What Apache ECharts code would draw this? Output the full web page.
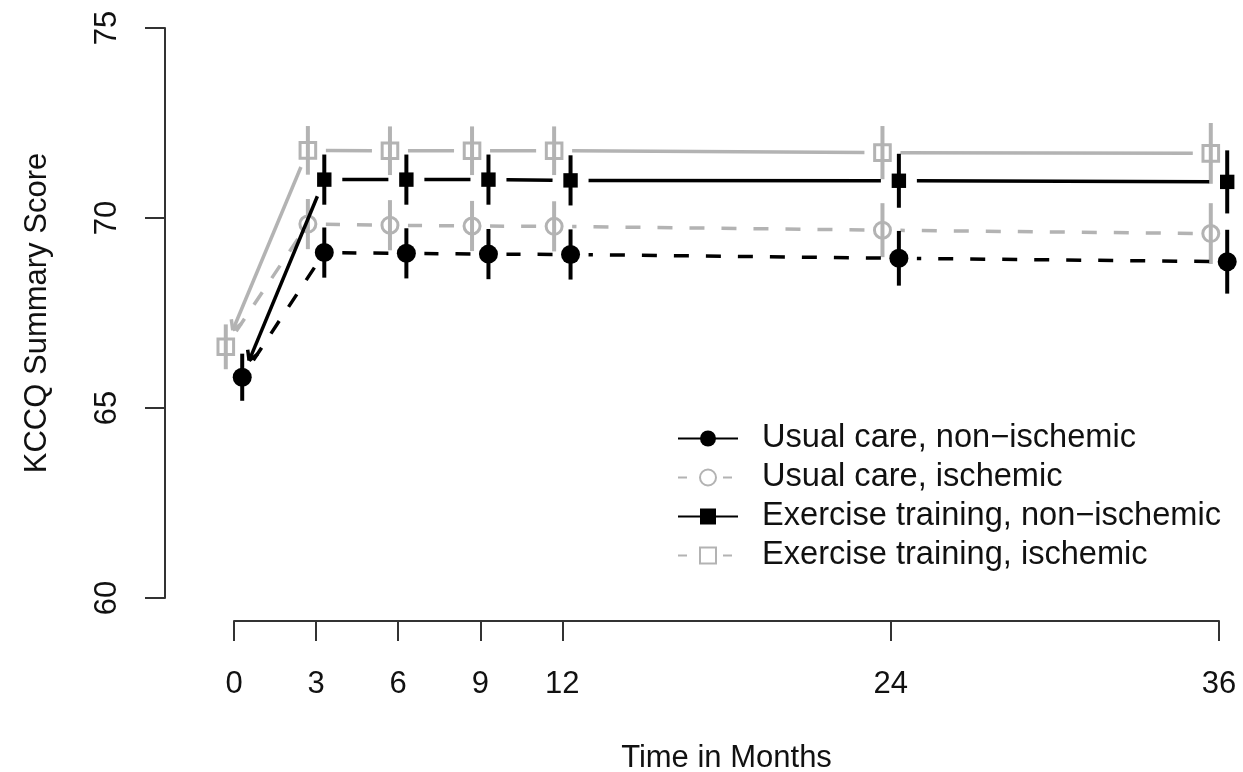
<!DOCTYPE html>
<html><head><meta charset="utf-8">
<script src="https://cdn.jsdelivr.net/npm/echarts@6/dist/echarts.min.js"></script>
<style>html,body{margin:0;padding:0;background:#fff}#c{width:1243px;height:772px}</style>
</head><body><div id="c"></div>
<script>
// ---- data ----
const months = [0, 3, 6, 9, 12, 24, 36];
const xTickLabels = [0, 3, 6, 9, 12, 24, 36];
const yTickLabels = [60, 65, 70, 75];
const seriesNames = [
  'Usual care, non\u2212ischemic',
  'Usual care, ischemic',
  'Exercise training, non\u2212ischemic',
  'Exercise training, ischemic'
];
// mean KCCQ summary score (month 0 = shared baseline per ischemic status)
const usualNonIsch = [65.81, 69.09, 69.07, 69.05, 69.04, 68.94, 68.85];
const usualIsch    = [66.61, 69.84, 69.81, 69.79, 69.78, 69.68, 69.59];
const exerNonIsch  = [65.81, 71.01, 71.01, 71.01, 70.99, 70.98, 70.95];
const exerIsch     = [66.61, 71.78, 71.77, 71.77, 71.77, 71.72, 71.70];
// half-width of the error bars
const usualNonIschErr = [0.62, 0.66, 0.66, 0.66, 0.66, 0.72, 0.84];
const usualIschErr    = [0.59, 0.66, 0.66, 0.66, 0.66, 0.71, 0.80];
const exerNonIschErr  = [0.62, 0.66, 0.66, 0.66, 0.66, 0.71, 0.83];
const exerIschErr     = [0.59, 0.64, 0.64, 0.64, 0.64, 0.70, 0.80];

// ---- styling ----
const FONT = "'Liberation Sans', Arial, Helvetica, sans-serif";
const BLACK = '#000000';
const GRAY = '#b3b3b3';
const DODGE = 0.3;

const specs = [
  {name: seriesNames[1], vals: usualIsch, errs: usualIschErr, color: GRAY, dash: [15, 17], sym: 'circle', filled: false, dodge: -DODGE, showFirst: false, arrow: false},
  {name: seriesNames[3], vals: exerIsch, errs: exerIschErr, color: GRAY, dash: null, sym: 'square', filled: false, dodge: -DODGE, showFirst: true, arrow: true},
  {name: seriesNames[0], vals: usualNonIsch, errs: usualNonIschErr, color: BLACK, dash: [15, 17], sym: 'circle', filled: true, dodge: DODGE, showFirst: true, arrow: false},
  {name: seriesNames[2], vals: exerNonIsch, errs: exerNonIschErr, color: BLACK, dash: null, sym: 'square', filled: true, dodge: DODGE, showFirst: false, arrow: true}
];

function makeRender(s) {
  return function (params, api) {
    const i = params.dataIndex;
    const x = api.value(0), y = api.value(1), e = api.value(2);
    const p = api.coord([x, y]);
    const ch = [];
    if (i > 0) {
      const q = api.coord([api.value(3), api.value(4)]);
      const dx = q[0] - p[0], dy = q[1] - p[1];
      const L = Math.hypot(dx, dy);
      const ux = dx / L, uy = dy / L;
      const g = 18;
      const a = [p[0] + ux * g, p[1] + uy * g];
      const b = [q[0] - ux * g, q[1] - uy * g];
      const st = {stroke: s.color, lineWidth: 3.5, fill: null};
      if (s.dash) st.lineDash = s.dash;
      ch.push({type: 'line', shape: {x1: a[0], y1: a[1], x2: b[0], y2: b[1]}, style: st});
      if (s.arrow && i === 1) {
        const len = 11, ang = Math.PI / 6;
        [ang, -ang].forEach(function (t) {
          const rx = ux * Math.cos(t) - uy * Math.sin(t);
          const ry = ux * Math.sin(t) + uy * Math.cos(t);
          ch.push({type: 'line', shape: {x1: b[0], y1: b[1], x2: b[0] - rx * len, y2: b[1] - ry * len},
            style: {stroke: s.color, lineWidth: 3.5}});
        });
      }
    }
    if (i > 0 || s.showFirst) {
      const top = api.coord([x, y + e]), bot = api.coord([x, y - e]);
      ch.push({type: 'line', shape: {x1: p[0], y1: top[1], x2: p[0], y2: bot[1]},
        style: {stroke: s.color, lineWidth: 4}});
      if (s.sym === 'circle') {
        ch.push({type: 'circle', shape: {cx: p[0], cy: p[1], r: s.filled ? 9.5 : 8},
          style: s.filled ? {fill: s.color} : {fill: null, stroke: s.color, lineWidth: 3}});
      } else {
        const h = s.filled ? 7.2 : 7.8;
        ch.push({type: 'rect', shape: {x: p[0] - h, y: p[1] - h, width: 2 * h, height: 2 * h},
          style: s.filled ? {fill: s.color} : {fill: null, stroke: s.color, lineWidth: 3}});
      }
    }
    return {type: 'group', children: ch};
  };
}

const series = [];
// legend proxies (no data)
const legendStyle = [
  {color: BLACK, sym: 'circle', dash: 'solid', w: 3},
  {color: GRAY, sym: 'emptyCircle', dash: [9, 36], w: 3},
  {color: BLACK, sym: 'rect', dash: 'solid', w: 3},
  {color: GRAY, sym: 'emptyRect', dash: [9, 36], w: 3}
];
legendStyle.forEach(function (ls, k) {
  series.push({
    type: 'line', name: seriesNames[k], data: [], symbol: ls.sym,
    itemStyle: {color: ls.color, borderColor: ls.color},
    lineStyle: {color: ls.color, width: ls.w, type: ls.dash}
  });
});
specs.forEach(function (s, si) {
  const baseDodge = (s.color === GRAY) ? -DODGE : DODGE;
  const data = s.vals.map(function (v, i) {
    const prevX = i === 0 ? 0 : (i === 1 ? months[0] + baseDodge : months[i - 1] + s.dodge);
    const pv = i > 0 ? s.vals[i - 1] : 0;
    return [months[i] + (i === 0 ? baseDodge : s.dodge), v, s.errs[i], prevX, pv];
  });
  series.push({
    type: 'custom', name: '_s' + si, data: data, clip: false, silent: true,
    encode: {x: 0, y: 1}, renderItem: makeRender(s), z: 2 + si
  });
});

const chart = echarts.init(document.getElementById('c'), null, {renderer: 'canvas'});
chart.setOption({
  animation: false,
  backgroundColor: '#ffffff',
  textStyle: {fontFamily: FONT},
  grid: {left: 234, right: 24, top: 28, bottom: 174, containLabel: false, outerBoundsMode: 'none'},
  legend: {
    orient: 'vertical', left: 672, top: 417, itemWidth: 60, itemHeight: 20, itemGap: 6,
    data: seriesNames, selectedMode: false,
    textStyle: {fontSize: 32.6, fontFamily: FONT, color: '#111', padding: [0, 0, 0, 19], lineHeight: 32}
  },
  xAxis: {
    type: 'value', min: 0, max: 36, offset: 23,
    name: 'Time in Months', nameLocation: 'middle', nameGap: 122,
    nameTextStyle: {fontSize: 31, color: '#111', fontFamily: FONT},
    axisLine: {show: true, onZero: false, lineStyle: {color: '#333', width: 2}},
    axisTick: {show: true, length: 20, lineStyle: {color: '#333', width: 2}, customValues: xTickLabels},
    axisLabel: {fontSize: 31, color: '#111', margin: 48, fontFamily: FONT, customValues: xTickLabels},
    splitLine: {show: false}
  },
  yAxis: {
    type: 'value', min: 60, max: 75, interval: 5, offset: 69,
    name: 'KCCQ Summary Score', nameLocation: 'middle', nameGap: 112,
    nameTextStyle: {fontSize: 31, color: '#111', fontFamily: FONT},
    axisLine: {show: true, onZero: false, lineStyle: {color: '#333', width: 2}},
    axisTick: {show: true, length: 20, lineStyle: {color: '#333', width: 2}, customValues: yTickLabels},
    axisLabel: {fontSize: 31, color: '#111', margin: 42, rotate: 90, fontFamily: FONT, customValues: yTickLabels},
    splitLine: {show: false}
  },
  series: series
});
</script></body></html>
